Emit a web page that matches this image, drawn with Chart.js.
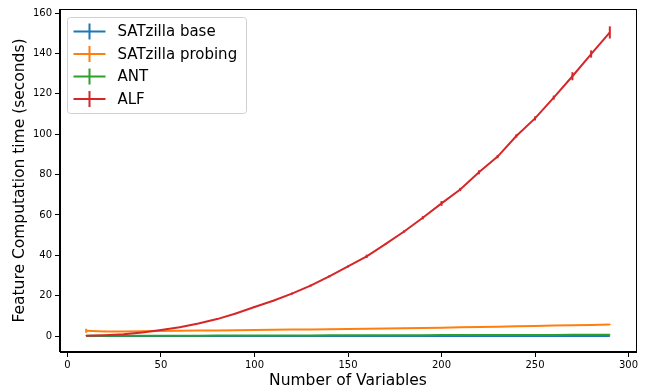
<!DOCTYPE html>
<html>
<head>
<meta charset="utf-8">
<script src="https://cdn.jsdelivr.net/npm/chart.js@4.4.1/dist/chart.umd.min.js"></script>
<style>
  html, body { margin: 0; padding: 0; background: #fff; }
  #wrap { width: 646px; height: 390px; }
</style>
</head>
<body>
<div id="wrap"><canvas id="chart" width="646" height="390"></canvas></div>
<script>
const numVars = [10, 20, 30, 40, 50, 60, 70, 80, 90, 100, 110, 120, 130, 140, 150,
  160, 170, 180, 190, 200, 210, 220, 230, 240, 250, 260, 270, 280, 290];

const satzillaBase = [0.05, 0.05, 0.05, 0.05, 0.05, 0.05, 0.05, 0.05, 0.05, 0.05, 0.05, 0.05, 0.05, 0.05, 0.05,
  0.05, 0.05, 0.05, 0.05, 0.05, 0.05, 0.05, 0.05, 0.05, 0.05, 0.05, 0.05, 0.05, 0.05];
const satzillaBaseErr = [0.05, 0.05, 0.05, 0.05, 0.05, 0.05, 0.05, 0.05, 0.05, 0.05, 0.05, 0.05, 0.05, 0.05, 0.05,
  0.05, 0.05, 0.05, 0.05, 0.05, 0.05, 0.05, 0.05, 0.05, 0.05, 0.05, 0.05, 0.05, 0.05];

const satzillaProbing = [2.6, 2.3, 2.3, 2.4, 2.5, 2.6, 2.7, 2.8, 2.9, 3.0, 3.1, 3.2, 3.3, 3.4, 3.5,
  3.6, 3.7, 3.9, 4.0, 4.1, 4.3, 4.5, 4.6, 4.8, 5.0, 5.2, 5.3, 5.5, 5.7];
const satzillaProbingErr = [1.0, 0.3, 0.2, 0.2, 0.2, 0.2, 0.2, 0.2, 0.2, 0.2, 0.2, 0.2, 0.2, 0.2, 0.2,
  0.2, 0.2, 0.2, 0.2, 0.2, 0.2, 0.2, 0.2, 0.2, 0.2, 0.2, 0.2, 0.2, 0.2];

const ant = [0.1, 0.1, 0.12, 0.14, 0.16, 0.18, 0.2, 0.22, 0.24, 0.26, 0.28, 0.3, 0.32, 0.34, 0.36,
  0.38, 0.4, 0.42, 0.44, 0.46, 0.48, 0.5, 0.52, 0.54, 0.56, 0.58, 0.6, 0.62, 0.64];
const antErr = [0.1, 0.1, 0.1, 0.1, 0.1, 0.1, 0.1, 0.1, 0.1, 0.1, 0.1, 0.1, 0.1, 0.1, 0.1,
  0.1, 0.1, 0.1, 0.1, 0.1, 0.1, 0.1, 0.1, 0.1, 0.1, 0.1, 0.1, 0.1, 0.1];

const alf = [0.1, 0.4, 0.9, 1.8, 3.0, 4.4, 6.2, 8.4, 11.2, 14.4, 17.5, 21.0, 25.0, 29.6, 34.5,
  39.5, 45.5, 51.8, 58.6, 65.7, 72.6, 81.1, 88.9, 99.1, 107.8, 118.1, 128.7, 139.7, 150.4];
const alfErr = [0.05, 0.1, 0.1, 0.15, 0.2, 0.2, 0.2, 0.3, 0.3, 0.4, 0.4, 0.5, 0.5, 0.5, 0.5,
  0.8, 0.3, 0.6, 0.8, 1.2, 0.8, 1.0, 0.8, 0.8, 1.0, 1.0, 2.0, 1.8, 3.0];

const xTicks = [0, 50, 100, 150, 200, 250, 300];
const yTicks = [0, 20, 40, 60, 80, 100, 120, 140, 160];

const FONT = 'DejaVu Sans';

function series(label, values, errs, color, order) {
  return {
    label: label,
    data: numVars.map((x, i) => ({ x: x, y: values[i] })),
    errors: errs,
    borderColor: color,
    backgroundColor: color,
    borderWidth: 2,
    pointRadius: 0,
    showLine: true,
    tension: 0,
    fill: false,
    order: order
  };
}

// vertical error bars, drawn with each series
const errorBars = {
  id: 'errorBars',
  afterDatasetDraw(chart, args) {
    const ds = chart.data.datasets[args.index];
    const ctx = chart.ctx;
    const xs = chart.scales.x, ys = chart.scales.y;
    ctx.save();
    ctx.strokeStyle = ds.borderColor;
    ctx.lineWidth = 2;
    ds.data.forEach((p, i) => {
      const e = ds.errors[i];
      const px = xs.getPixelForValue(p.x);
      ctx.beginPath();
      ctx.moveTo(px, ys.getPixelForValue(p.y - e));
      ctx.lineTo(px, ys.getPixelForValue(p.y + e));
      ctx.stroke();
    });
    ctx.restore();
  }
};

// top/right spines + legend box inside the plot
const frameAndLegend = {
  id: 'frameAndLegend',
  afterDraw(chart) {
    const ctx = chart.ctx;
    const a = chart.chartArea;
    ctx.save();
    ctx.strokeStyle = '#000';
    ctx.lineWidth = 1;
    ctx.strokeRect(Math.round(a.left) - 0.5, Math.round(a.top) + 0.5,
      Math.round(a.right - a.left) + 1, Math.round(a.bottom - a.top) - 1);

    const bx = a.left + 7.5, by = a.top + 8.5, bw = 179, bh = 96;
    ctx.beginPath();
    ctx.roundRect(bx, by, bw, bh, 3);
    ctx.fillStyle = 'rgba(255,255,255,0.8)';
    ctx.fill();
    ctx.strokeStyle = '#d0d0d0';
    ctx.stroke();

    ctx.font = '15px "' + FONT + '"';
    ctx.textBaseline = 'middle';
    ctx.textAlign = 'left';
    chart.data.datasets.forEach((ds, i) => {
      const y = by + 14 + i * 22.5;
      ctx.strokeStyle = ds.borderColor;
      ctx.lineWidth = 2;
      ctx.beginPath();
      ctx.moveTo(bx + 6, y);
      ctx.lineTo(bx + 38, y);
      ctx.moveTo(bx + 22, y - 8);
      ctx.lineTo(bx + 22, y + 8);
      ctx.stroke();
      ctx.fillStyle = '#000';
      ctx.fillText(ds.label, bx + 50, y + 1);
    });
    ctx.restore();
  }
};

const ctx = document.getElementById('chart').getContext('2d');
new Chart(ctx, {
  type: 'scatter',
  data: {
    datasets: [
      series('SATzilla base', satzillaBase, satzillaBaseErr, '#1f77b4', 3),
      series('SATzilla probing', satzillaProbing, satzillaProbingErr, '#ff7f0e', 2),
      series('ANT', ant, antErr, '#2ca02c', 1),
      series('ALF', alf, alfErr, '#d62728', 0)
    ]
  },
  options: {
    responsive: false,
    animation: false,
    devicePixelRatio: 1,
    layout: { padding: { top: 7, right: 10, left: 0, bottom: 0 } },
    plugins: {
      legend: { display: false },
      tooltip: { enabled: false }
    },
    scales: {
      x: {
        type: 'linear',
        min: -4,
        max: 304,
        afterBuildTicks: s => { s.ticks = xTicks.map(v => ({ value: v })); },
        afterFit: s => { s.height = 38; },
        ticks: { font: { family: FONT, size: 10 }, color: '#000', padding: 2, maxRotation: 0 },
        grid: { drawOnChartArea: false, tickLength: 5, color: '#000' },
        border: { color: '#000', width: 1 },
        title: {
          display: true,
          text: 'Number of Variables',
          font: { family: FONT, size: 15.5 },
          color: '#000',
          padding: { top: 0, bottom: 0 }
        }
      },
      y: {
        min: -7.9,
        max: 162,
        afterBuildTicks: s => { s.ticks = yTicks.map(v => ({ value: v })); },
        afterFit: s => { s.width = 60; },
        ticks: { font: { family: FONT, size: 10 }, color: '#000', padding: 3 },
        grid: { drawOnChartArea: false, tickLength: 5, color: '#000' },
        border: { color: '#000', width: 1 },
        title: {
          display: true,
          text: 'Feature Computation time (seconds)',
          font: { family: FONT, size: 15.5 },
          color: '#000',
          padding: { top: 11, bottom: 0 }
        }
      }
    }
  },
  plugins: [errorBars, frameAndLegend]
});
</script>
</body>
</html>
